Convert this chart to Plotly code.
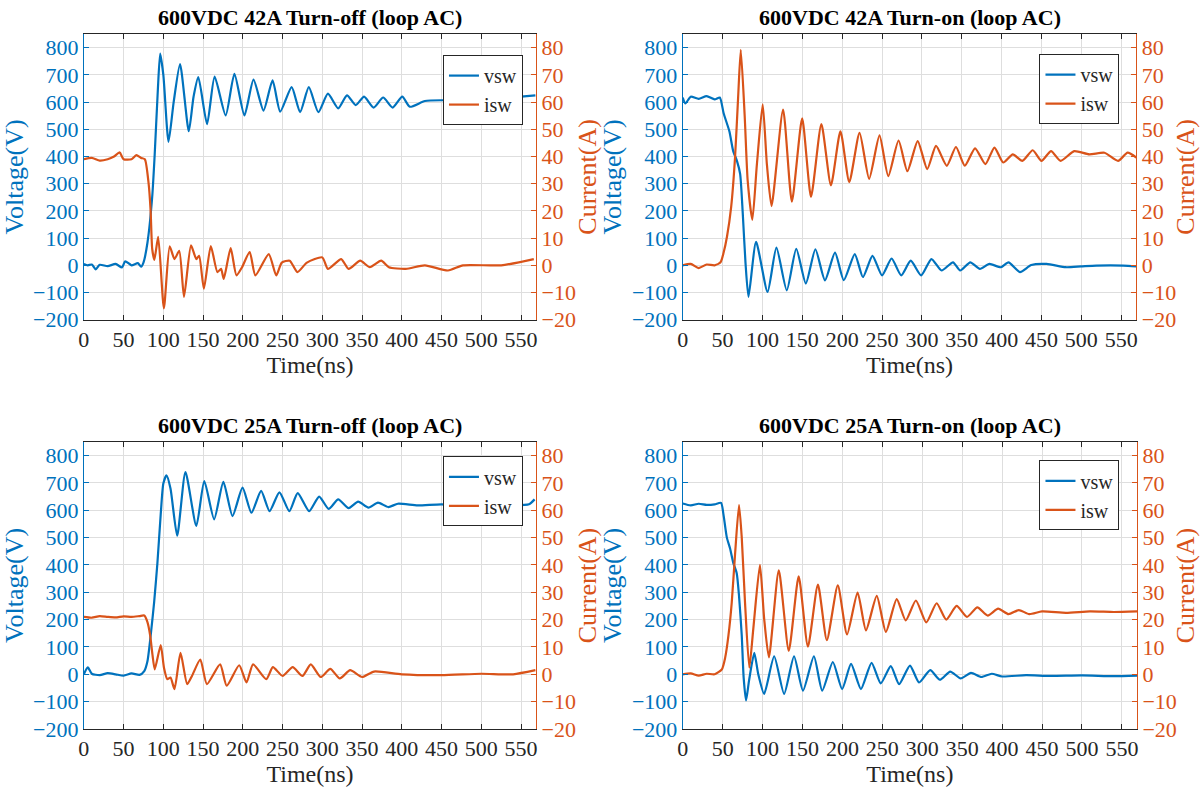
import plotly.graph_objects as go

# ---------------- data ----------------
titles = ["600VDC 42A Turn-off (loop AC)", "600VDC 42A Turn-on (loop AC)",
          "600VDC 25A Turn-off (loop AC)", "600VDC 25A Turn-on (loop AC)"]
series_names = ["vsw", "isw"]
x_ticks = [0, 50, 100, 150, 200, 250, 300, 350, 400, 450, 500, 550]
v_ticks = [-200, -100, 0, 100, 200, 300, 400, 500, 600, 700, 800]
i_ticks = [-20, -10, 0, 10, 20, 30, 40, 50, 60, 70, 80]

# Panel 1: 42A turn-off
t1_v = [0, 5, 10, 15, 20, 30, 40, 48, 52, 60, 68, 72, 75, 80, 86, 89, 93, 96, 100, 106.5, 113, 121, 132, 138,
        144, 155, 164.5, 178.4, 189.4, 202, 213.4, 226, 237.4, 247, 261.4, 272, 283, 295, 307, 320, 331,
        342, 352.5, 364.5, 376.5, 388.5, 400.5, 410, 429, 453, 477, 501, 525, 550, 568]
v1 = [5, 0, 3, -15, 2, -3, 5, -8, 15, 0, 8, -5, 10, 83, 252, 400, 640, 778, 700, 454, 600, 740, 493, 620,
      692, 519, 694, 551, 704, 551, 683, 569, 680, 565, 655, 563, 655, 563, 631, 577, 625,
      589, 620, 580, 617, 580, 620, 583, 604, 607, 607, 607, 613, 620, 625]
t1_i = [0, 10, 20, 30, 38, 45, 50, 60, 66, 72, 76.7, 81.5, 84, 86, 88.7, 93.5, 100.7, 108, 114, 120, 126,
        134.8, 141.5, 145, 151, 159.7, 168, 172.6, 176, 184.7, 192, 199, 208.6, 215.8, 232.6, 242, 249,
        259, 268.6, 280.6, 300, 307, 323.7, 333, 347.7, 359.7, 374, 383.7, 405, 429, 458, 477, 525, 566]
i1 = [39, 39.5, 38.5, 39, 40, 41.5, 39, 39, 40.5, 39.5, 39, 30, 20, 6, 2, 10.5, -15.8, 7, 2.3, 5.3, -11.6,
      7.3, 2.3, 3.5, -8.6, 7.1, -2.5, -1.3, -5, 6.3, -3.7, -0.7, 4.9, -3.7, 4.1, -3.7, 1,
      1.7, -2.5, 1, 2.9, -1.3, 2.3, -1.3, 1.7, -0.7, 1.7, -0.7, -1.3, 0, -1.9, 0, 0, 2.3]

# Panel 2: 42A turn-on
t2_v = [0, 3.4, 10, 20, 30, 40, 46.5, 51.3, 58.5, 63.3, 68, 72, 75.3, 78.7, 82.5, 92, 106.4, 117.5, 130.5,
        142.4, 154.4, 166.4, 178.4, 191, 202, 215.8, 226, 238, 250, 262, 274, 286, 299, 312, 324.7, 339,
        348, 360.7, 372.7, 384.7, 399, 408.6, 423, 437.2, 456.4, 480.5, 499.6, 518.8, 552.5, 569]
v2 = [617, 595, 620, 612, 622, 610, 617, 559, 493, 420, 384, 336, 191, 11, -116, 86, -98, 65, -92,
      61, -67, 59, -55, 47, -55, 41, -43, 35, -37, 25, -37, 17, -37, 23, -19, 11,
      -19, 11, -13, 5, -7, 11, -25, 1, 5, -7, -4, -1, -1, -4]
t2_i = [0, 10, 20, 30, 40, 47.4, 51.3, 55.6, 60.8, 65.6, 69.4, 72.8, 77.7, 81.5, 87.3, 93, 100.3, 105.6,
        111.4, 125.9, 136.9, 149.8, 160.9, 173.9, 185.9, 197.8, 208.9, 221.8, 233.8, 246.8, 257.8, 270.7,
        281.8, 294.7, 306.7, 317.7, 331.2, 342.7, 353.8, 366.7, 379.6, 391, 402, 414, 426, 439, 450, 462,
        474, 491, 510, 529, 546, 558, 569]
i2 = [0, 0.5, -1, 0.3, 0, 1.1, 4.7, 10.7, 21.6, 39.6, 61.3, 79.2, 55, 31, 16.7, 37, 59.2, 37,
      21.8, 57.3, 23.4, 54, 25.2, 51.9, 29.4, 49.3, 30.6, 48.7, 31.8, 47.8, 32.8, 45.9,
      34.6, 45.7, 35.4, 43.9, 36.6, 43.5, 36.6, 43, 37.2, 43.3, 37.8, 40.8, 38.4, 42.3, 38.4, 42,
      38.4, 42, 40.8, 41.4, 38.4, 41.4, 39.6]

# Panel 3: 25A turn-off
t3_v = [0, 5, 10, 20, 30, 40, 50, 60, 70, 76, 80, 85, 88.4, 92.5, 96.7, 100, 104, 109, 117.4, 127.8, 141.5,
        151.5, 163.9, 175.5, 187, 199.6, 210.8, 223, 233.6, 246, 258.5, 269, 283.4, 296, 308, 320, 333,
        345, 358, 370, 383, 395, 420, 450, 480, 510, 540, 560, 567]
v3 = [0, 25, 2, -3, 4, 0, -5, 3, -2, 12, 48, 167, 263, 406, 585, 698, 728, 680, 507, 740, 543,
      707, 567, 704, 579, 683, 591, 671, 597, 666, 597, 663, 597, 650, 605, 640, 608,
      632, 610, 628, 612, 624, 618, 622, 615, 620, 618, 622, 640]
t3_i = [0, 10, 20, 30, 40, 50, 60, 70, 76, 80, 83.4, 86.3, 89.2, 96.7, 100.8, 105, 109, 114, 121.6, 130, 136,
        146.5, 154.8, 171.4, 179.7, 195.4, 204.6, 212.9, 229.5, 237.8, 250, 262.7, 275, 285.5, 298, 310,
        322, 335, 350, 365, 400, 450, 500, 540, 568]
i3 = [21, 20.7, 21.3, 21, 20.8, 21.2, 21, 21.3, 21.5, 19.1, 14.3, 7.2, 1.8, 10.7, 2.4, -1.8, -1.2, -5.4, 7.8,
      -3.6, -0.6, 5.4, -3.6, 3.6, -4.2, 3.3, -3.0, 3.6, -1.8, 2.6, -0.6, 2.6, -0.6, 3.6, -1, 2,
      -1.5, 1.5, -1, 1, 0, -0.3, 0.2, 0, 1.5]

# Panel 4: 25A turn-on
t4_v = [0, 10, 20, 30, 40, 48, 51, 55.2, 59.3, 63.5, 67.6, 70.5, 73.9, 76.3, 79.3, 83, 89.6, 94.6, 102,
        114.5, 127, 139.4, 150.6, 164.3, 174.7, 188, 199.6, 210.8, 223.2, 236.5, 248, 260.6, 271,
        284.6, 296, 310, 322, 335, 348, 361, 374, 387, 400, 430, 460, 500, 540, 569]
v4 = [625, 618, 624, 620, 622, 627, 585, 501, 460, 406, 370, 287, 143, -12, -96, -24, 78, 0, -72,
      66, -72, 66, -60, 66, -60, 45, -54, 38, -54, 42, -33, 30, -36,
      32, -30, 15, -20, 10, -15, 5, -10, 2, -8, -3, -6, -4, -7, -5]
t4_i = [0, 10, 20, 30, 40, 49, 53.1, 57.3, 61.4, 65.6, 70.5, 73.9, 78, 83.4, 88.4, 96.7, 102, 107.9,
        120.3, 132.8, 145.2, 156.8, 169.3, 180.5, 194.2, 205.8, 219, 229.5, 243, 254.4, 268, 279.3,
        292, 305, 318, 330, 343, 356, 369, 382, 395, 408, 421, 434, 450, 480, 510, 540, 569]
i4 = [0, 0.3, -0.5, 0.2, 0, 1.8, 6, 14.3, 26.3, 44.2, 61.9, 50.1, 26.3, 2.4, 16.7, 40, 20.3, 6.2,
      38, 8.6, 35.8, 10.1, 32.8, 12.5, 32.5, 14.6, 29.9, 16.1, 28.7, 15.5, 27.5, 19.7,
      27, 19, 26, 20, 25, 21, 24.5, 21.5, 24, 22, 23.5, 22, 23, 22.5, 23, 22.8, 23]

panels = [(t1_v, v1, t1_i, i1), (t2_v, v2, t2_i, i2), (t3_v, v3, t3_i, i3), (t4_v, v4, t4_i, i4)]

# ---------------- styling ----------------
W, H = 1200, 799
BLUE = "#0072BD"
ORANGE = "#D95319"
DARK = "#262626"
GRID = "#dedede"
FONT = "Liberation Serif, Times New Roman, serif"

# pixel geometry of the four plot areas: (left, right, top, bottom)
boxes = [(78.3, 533.3, 34.7, 325.0), (680.7, 1137.0, 34.7, 325.0),
         (78.3, 533.3, 449.3, 741.0), (680.7, 1137.7, 449.3, 741.0)]
legend_pos = [(520, 56), (1120, 55), (520, 464), (1120, 468)]

fig = go.Figure()
layout = dict(width=W, height=H, margin=dict(l=0, r=0, t=0, b=0),
              paper_bgcolor="white", plot_bgcolor="white", showlegend=True,
              font=dict(family=FONT, color=DARK))
annotations = []

for k, (tv, vv, ti, ii) in enumerate(panels):
    L, R, T, B = boxes[k]
    xs = "" if k == 0 else str(k + 1)
    yl = str(2 * k + 1) if k > 0 else ""
    yr = str(2 * k + 2)
    leg = "legend" if k == 0 else "legend%d" % (k + 1)
    fig.add_trace(go.Scatter(x=tv, y=vv, mode="lines", name=series_names[0],
                             line=dict(color=BLUE, width=2.2, shape="spline", smoothing=0.6),
                             xaxis="x" + xs, yaxis="y" + yl, legend=leg))
    fig.add_trace(go.Scatter(x=ti, y=ii, mode="lines", name=series_names[1],
                             line=dict(color=ORANGE, width=2.2, shape="spline", smoothing=0.6),
                             xaxis="x" + xs, yaxis="y" + yr, legend=leg))
    xdom = [L / W, R / W]
    ydom = [1 - B / H, 1 - T / H]
    layout["xaxis" + xs] = dict(domain=xdom, range=[0, 569], anchor="y" + yl,
                                tickvals=x_ticks, ticks="inside", ticklen=5, tickcolor=DARK,
                                showline=True, linecolor=DARK, linewidth=1, mirror="ticks",
                                showgrid=True, gridcolor=GRID, zeroline=False,
                                tickfont=dict(family=FONT, size=22, color=DARK),
                                title=dict(text="Time(ns)", font=dict(family=FONT, size=24, color=DARK),
                                           standoff=0))
    layout["yaxis" + yl] = dict(domain=ydom, range=[-200, 850], anchor="x" + xs,
                                tickvals=v_ticks, ticks="inside", ticklen=5, tickcolor=BLUE,
                                showline=True, linecolor=BLUE, linewidth=1,
                                showgrid=True, gridcolor=GRID, zeroline=False,
                                tickfont=dict(family=FONT, size=22, color=BLUE),
                                title=dict(text="Voltage(V)", font=dict(family=FONT, size=26, color=BLUE),
                                           standoff=2))
    layout["yaxis" + yr] = dict(range=[-20, 85], overlaying="y" + yl, side="right", anchor="x" + xs,
                                tickvals=i_ticks, ticks="inside", ticklen=5, tickcolor=ORANGE,
                                showline=True, linecolor=ORANGE, linewidth=1,
                                showgrid=False, zeroline=False,
                                tickfont=dict(family=FONT, size=22, color=ORANGE),
                                title=dict(text="Current(A)", font=dict(family=FONT, size=26, color=ORANGE),
                                           standoff=2))
    lx, ly = legend_pos[k]
    layout[leg] = dict(x=lx / W, y=1 - ly / H, xanchor="right", yanchor="top",
                       bgcolor="white", bordercolor=DARK, borderwidth=1,
                       font=dict(family=FONT, size=20, color=DARK),
                       tracegroupgap=0, itemwidth=30)
    annotations.append(dict(text="<b>%s</b>" % titles[k], x=(L + R) / 2 / W, y=1 - (T - 17) / H,
                            xref="paper", yref="paper", xanchor="center", yanchor="middle",
                            showarrow=False, font=dict(family=FONT, size=22, color="black")))

layout["annotations"] = annotations
fig.update_layout(**layout)
fig.write_html("out.html")
